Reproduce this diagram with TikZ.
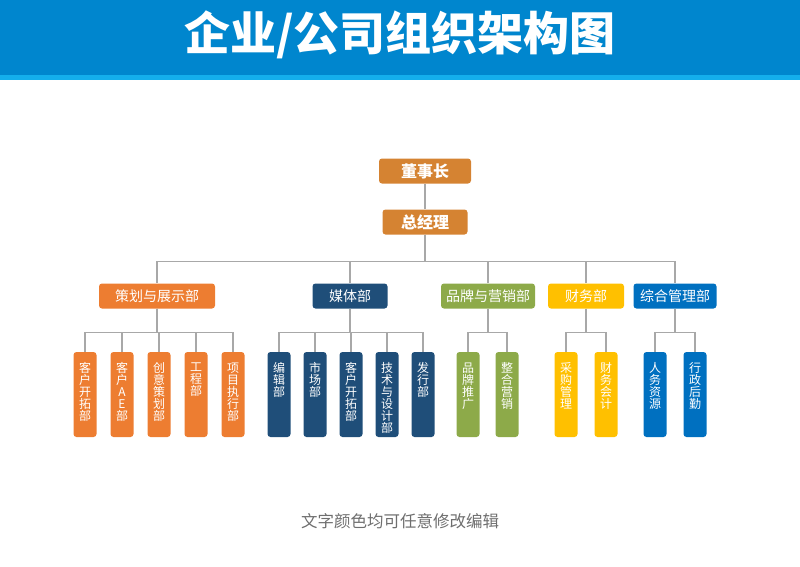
\documentclass[tikz,border=0pt]{standalone}
\usepackage{fontspec}
\newfontfamily\cjk{Noto Sans CJK SC}
\usetikzlibrary{positioning}
\definecolor{headblue}{RGB}{0,134,206}
\definecolor{stripeblue}{RGB}{20,174,236}
\definecolor{topbrown}{RGB}{213,131,50}
\definecolor{planorange}{RGB}{237,125,49}
\definecolor{medianavy}{RGB}{31,78,121}
\definecolor{brandgreen}{RGB}{141,170,73}
\definecolor{financegold}{RGB}{255,192,0}
\definecolor{adminblue}{RGB}{0,112,192}
\definecolor{linegray}{RGB}{168,168,168}
\definecolor{notegray}{RGB}{110,110,110}
\tikzset{
  dept/.style={fill=#1, rounded corners=3pt, text=white, inner sep=0pt, minimum height=25pt, font=\cjk\fontsize{14}{14}\selectfont},
  leaf/.style={fill=#1, rounded corners=3pt, text=white, inner sep=0pt, minimum width=23pt, minimum height=85pt, font=\cjk\fontsize{12}{12}\selectfont},
  link/.style={draw=linegray, line width=1.4pt},
}
\newcommand{\vlabel}[1]{\parbox[c][64pt][t]{20pt}{\centering #1}}
\begin{document}
\begin{tikzpicture}[x=1pt,y=-1pt]
\useasboundingbox (0,0) rectangle (800,566);
% header
\fill[headblue] (0,0) rectangle (800,75);
\fill[stripeblue] (0,75) rectangle (800,80);
\node[text=white, font=\cjk\bfseries\fontsize{46}{46}\selectfont] (title) at (400,35) {企业/公司组织架构图};
% top
\node[dept=topbrown, minimum width=92pt, font=\cjk\bfseries\fontsize{16}{16}\selectfont] (chair) at (425,171) {董事长};
\node[dept=topbrown, minimum width=85pt, font=\cjk\bfseries\fontsize{16}{16}\selectfont] (gm) at (425,222) {总经理};
% departments
\node[dept=planorange, minimum width=116pt] (plan) at (157,296) {策划与展示部};
\node[dept=medianavy, minimum width=75pt] (media) at (350,296) {媒体部};
\node[dept=brandgreen, minimum width=94pt] (brand) at (488,296) {品牌与营销部};
\node[dept=financegold, minimum width=76pt] (finance) at (586,296) {财务部};
\node[dept=adminblue, minimum width=83pt] (admin) at (675,296) {综合管理部};
% leaves
\node[leaf=planorange] (plan1) at (85,394.5) {\vlabel{客\\户\\开\\拓\\部}};
\node[leaf=planorange] (plan2) at (122,394.5) {\vlabel{客\\户\\A\\E\\部}};
\node[leaf=planorange] (plan3) at (159,394.5) {\vlabel{创\\意\\策\\划\\部}};
\node[leaf=planorange] (plan4) at (196,394.5) {\vlabel{工\\程\\部}};
\node[leaf=planorange] (plan5) at (233,394.5) {\vlabel{项\\目\\执\\行\\部}};
\node[leaf=medianavy] (media1) at (279,394.5) {\vlabel{编\\辑\\部}};
\node[leaf=medianavy] (media2) at (315,394.5) {\vlabel{市\\场\\部}};
\node[leaf=medianavy] (media3) at (351,394.5) {\vlabel{客\\户\\开\\拓\\部}};
\node[leaf=medianavy] (media4) at (387,394.5) {\vlabel{技\\术\\与\\设\\计\\部}};
\node[leaf=medianavy] (media5) at (423,394.5) {\vlabel{发\\行\\部}};
\node[leaf=brandgreen] (brand1) at (468,394.5) {\vlabel{品\\牌\\推\\广}};
\node[leaf=brandgreen] (brand2) at (507,394.5) {\vlabel{整\\合\\营\\销}};
\node[leaf=financegold] (finance1) at (566,394.5) {\vlabel{采\\购\\管\\理}};
\node[leaf=financegold] (finance2) at (606,394.5) {\vlabel{财\\务\\会\\计}};
\node[leaf=adminblue] (admin1) at (655,394.5) {\vlabel{人\\务\\资\\源}};
\node[leaf=adminblue] (admin2) at (695,394.5) {\vlabel{行\\政\\后\\勤}};
% connectors
\draw[link] (chair) -- (gm);
\draw[link] (gm.south) -- ++(0,26.5) -| (plan.north);
\draw[link] (gm.south) -- ++(0,26.5) -| (media.north);
\draw[link] (gm.south) -- ++(0,26.5) -| (brand.north);
\draw[link] (gm.south) -- ++(0,26.5) -| (finance.north);
\draw[link] (gm.south) -- ++(0,26.5) -| (admin.north);
\draw[link] (plan.south) -- ++(0,23.5) -| (plan1.north);
\draw[link] (plan.south) -- ++(0,23.5) -| (plan2.north);
\draw[link] (plan.south) -- ++(0,23.5) -| (plan3.north);
\draw[link] (plan.south) -- ++(0,23.5) -| (plan4.north);
\draw[link] (plan.south) -- ++(0,23.5) -| (plan5.north);
\draw[link] (media.south) -- ++(0,23.5) -| (media1.north);
\draw[link] (media.south) -- ++(0,23.5) -| (media2.north);
\draw[link] (media.south) -- ++(0,23.5) -| (media3.north);
\draw[link] (media.south) -- ++(0,23.5) -| (media4.north);
\draw[link] (media.south) -- ++(0,23.5) -| (media5.north);
\draw[link] (brand.south) -- ++(0,23.5) -| (brand1.north);
\draw[link] (brand.south) -- ++(0,23.5) -| (brand2.north);
\draw[link] (finance.south) -- ++(0,23.5) -| (finance1.north);
\draw[link] (finance.south) -- ++(0,23.5) -| (finance2.north);
\draw[link] (admin.south) -- ++(0,23.5) -| (admin1.north);
\draw[link] (admin.south) -- ++(0,23.5) -| (admin2.north);
% note
\node[text=notegray, font=\cjk\fontsize{16.5}{16.5}\selectfont] (note) at (400,521) {文字颜色均可任意修改编辑};
\end{tikzpicture}
\end{document}
